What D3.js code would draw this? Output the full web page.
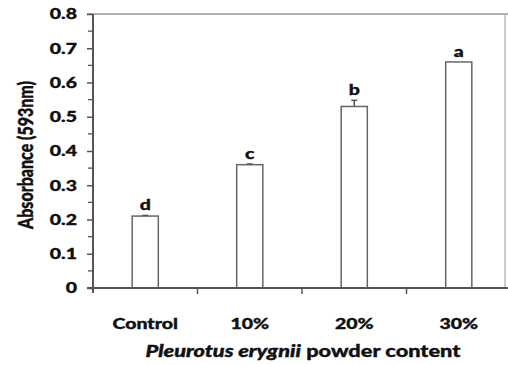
<!DOCTYPE html>
<html>
<head>
<meta charset="utf-8">
<script src="https://cdn.jsdelivr.net/npm/d3@7"></script>
<style>
  body { margin: 0; background: #fff; }
  svg text { font-family: Lato, "Open Sans", sans-serif; font-weight: 900; fill: #111;
             stroke: #111; stroke-width: 0.35px; }
</style>
</head>
<body>
<svg id="chart" width="508" height="365"></svg>
<script>
// Chart data
const categories = ["Control", "10%", "20%", "30%"]
const absorbance = [0.21, 0.36, 0.53, 0.66]
const errors = [0.002, 0.002, 0.018, 0]
const letters = ["d", "c", "b", "a"]
const yTicks = [0, 0.1, 0.2, 0.3, 0.4, 0.5, 0.6, 0.7, 0.8]

// the original figure is stretched sideways, so text gets a horizontal scale
const SX = 1.3

const svg = d3.select("#chart")
const margin = {top: 14, left: 93, bottom: 77}
const H = 365 - margin.top - margin.bottom

const g = svg.append("g").attr("transform", `translate(${margin.left},${margin.top})`)

const y = d3.scaleLinear().domain([0, 0.8]).range([H, 0])
const x = d3.scaleBand().domain(categories).range([0, 418])

// Light frame on top and right side
g.append("line").attr("x1", -6).attr("x2", 415).attr("y1", 0).attr("y2", 0)
  .attr("stroke", "#999").attr("stroke-width", 1.5)
g.append("line").attr("x1", 412).attr("x2", 412).attr("y1", 0).attr("y2", H)
  .attr("stroke", "#aaa").attr("stroke-width", 1.2)

// Minor ticks every 0.05
g.selectAll(".minor").data(d3.range(0.05, 0.8, 0.1)).enter().append("line")
  .attr("x1", -5).attr("x2", 0)
  .attr("y1", d => y(d)).attr("y2", d => y(d))
  .attr("stroke", "#555").attr("stroke-width", 1.3)

// Y axis
const yAxis = g.append("g")
  .call(d3.axisLeft(y).tickValues(yTicks).tickSize(6).tickPadding(6.3)
    .tickFormat(d => d === 0 ? "0" : d3.format(".1f")(d)))
yAxis.select(".domain").attr("stroke", "#555").attr("stroke-width", 2)
  .attr("d", `M0,0V${H + 5}`)
yAxis.selectAll(".tick line").attr("stroke", "#555").attr("stroke-width", 1.5)
yAxis.selectAll("text").style("font-size", "15px").attr("transform", `scale(${SX},1)`)

// Bars
g.selectAll(".bar").data(categories).enter().append("rect")
  .attr("x", d => x(d) + x.bandwidth() * 0.375)
  .attr("width", x.bandwidth() * 0.25)
  .attr("y", (d, i) => y(absorbance[i]))
  .attr("height", (d, i) => H - y(absorbance[i]))
  .attr("fill", "#fff").attr("stroke", "#666").attr("stroke-width", 1.5)

// Error bars
categories.forEach((c, i) => {
  if (!errors[i]) return
  const cx = x(c) + x.bandwidth() / 2
  g.append("line").attr("x1", cx).attr("x2", cx)
    .attr("y1", y(absorbance[i])).attr("y2", y(absorbance[i] + errors[i]))
    .attr("stroke", "#555").attr("stroke-width", 1.5)
  g.append("line").attr("x1", cx - 3).attr("x2", cx + 3)
    .attr("y1", y(absorbance[i] + errors[i])).attr("y2", y(absorbance[i] + errors[i]))
    .attr("stroke", "#555").attr("stroke-width", 1.5)
})

// Significance letters
g.selectAll(".letter").data(categories).enter().append("text")
  .attr("transform", (d, i) =>
    `translate(${x(d) + x.bandwidth() / 2},${y(absorbance[i] + errors[i]) - 5}) scale(${SX},1)`)
  .attr("text-anchor", "middle")
  .style("font-size", "15px")
  .text((d, i) => letters[i])

// X axis
const xAxis = g.append("g").attr("transform", `translate(0,${H})`)
  .call(d3.axisBottom(x).tickSize(0).tickPadding(30))
xAxis.select(".domain").attr("stroke", "#555").attr("stroke-width", 2)
  .attr("d", "M-6,0H415")
xAxis.selectAll("text").style("font-size", "15px").attr("transform", `scale(${SX},1)`)
// category separators below the axis
xAxis.selectAll(".sep").data(categories.slice(1)).enter().append("line")
  .attr("x1", d => x(d)).attr("x2", d => x(d))
  .attr("y1", 0).attr("y2", 6)
  .attr("stroke", "#555").attr("stroke-width", 1.5)

// Axis titles
svg.append("text")
  .attr("transform", `translate(33,155) scale(${SX},1) rotate(-90)`)
  .attr("text-anchor", "middle")
  .style("font-size", "16px")
  .text("Absorbance (593nm)")

const xt = svg.append("text")
  .attr("transform", `translate(303,357) scale(1.36,1)`)
  .attr("text-anchor", "middle")
  .style("font-size", "16px")
xt.append("tspan").style("font-style", "italic").text("Pleurotus erygnii")
xt.append("tspan").text(" powder content")
</script>
</body>
</html>
